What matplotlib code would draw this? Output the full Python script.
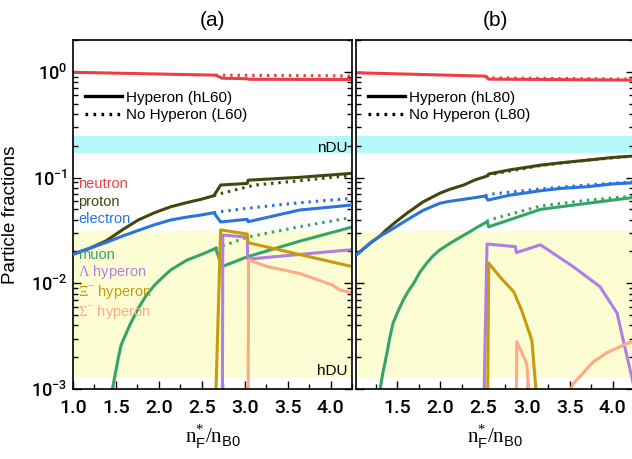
import matplotlib
matplotlib.use("Agg")
import matplotlib.pyplot as plt
from matplotlib.lines import Line2D
from matplotlib.ticker import MultipleLocator, LogLocator, FixedLocator, FixedFormatter, NullFormatter

plt.rcParams['font.family'] = ['Liberation Sans', 'DejaVu Sans']
plt.rcParams['mathtext.fontset'] = 'custom'
plt.rcParams['mathtext.rm'] = 'Liberation Serif'
plt.rcParams['mathtext.sf'] = 'Liberation Sans'
plt.rcParams['mathtext.bf'] = 'Roboto:medium'

# ---------------- data: panel (a) hL60 / L60 ----------------
a_neutron_x = [1.0, 2.66, 2.74, 3.03, 3.05, 4.25]
a_neutron_y = [0.99, 0.93, 0.87, 0.86, 0.85, 0.845]
a_neutron_dot_x = [2.66, 4.25]
a_neutron_dot_y = [0.93, 0.915]

a_proton_x = [1.0, 1.2, 1.39, 1.58, 1.76, 1.95, 2.14, 2.32, 2.49, 2.64, 2.72, 3.03, 3.04, 3.64, 4.25]
a_proton_y = [0.0188, 0.0215, 0.0253, 0.0322, 0.0397, 0.0465, 0.053, 0.0578, 0.0622, 0.0673,
              0.085, 0.088, 0.0944, 0.1005, 0.1096]
a_proton_dot_x = [2.64, 2.72, 3.12, 3.64, 4.25]
a_proton_dot_y = [0.0673, 0.0706, 0.085, 0.0933, 0.105]

a_electron_x = [1.0, 1.2, 1.39, 1.58, 1.76, 1.95, 2.14, 2.32, 2.49, 2.64, 2.72, 3.03, 3.04, 3.64, 4.25]
a_electron_y = [0.0188, 0.0215, 0.0244, 0.028, 0.0316, 0.0358, 0.0397, 0.0422, 0.0442, 0.0465,
                0.038, 0.0403, 0.0382, 0.0493, 0.055]
a_electron_dot_x = [2.64, 2.72, 3.03, 3.64, 4.25]
a_electron_dot_y = [0.0465, 0.0476, 0.0512, 0.0578, 0.0636]

a_muon_x = [1.44, 1.46, 1.49, 1.527, 1.56, 1.66, 1.76, 1.85, 1.95, 2.05, 2.14, 2.33, 2.53, 2.66,
            2.74, 3.03, 3.64, 4.25]
a_muon_y = [0.0007, 0.001, 0.00136, 0.00195, 0.0026, 0.0040, 0.0058, 0.0076, 0.0096, 0.0115, 0.0134,
            0.0166, 0.0192, 0.0214, 0.0144, 0.0178, 0.025, 0.034]
a_muon_dot_x = [2.66, 2.74, 3.03, 3.64, 4.25]
a_muon_dot_y = [0.0214, 0.0225, 0.0273, 0.0343, 0.042]

a_lambda_x = [2.74, 2.745, 3.03, 3.035, 4.25]
a_lambda_y = [0.0005, 0.0286, 0.0273, 0.0169, 0.0208]
a_xi_x = [2.655, 2.72, 3.03, 3.04, 4.25]
a_xi_y = [0.0005, 0.032, 0.0292, 0.0242, 0.0144]
a_sigma_x = [3.04, 3.045, 3.26, 3.64, 4.02, 4.1, 4.25]
a_sigma_y = [0.0005, 0.0167, 0.0144, 0.0124, 0.00964, 0.0087, 0.0081]

# ---------------- data: panel (b) hL80 / L80 ----------------
b_neutron_x = [1.02, 2.52, 2.56, 4.25]
b_neutron_y = [0.98, 0.91, 0.853, 0.835]
b_neutron_dot_x = [2.52, 2.56, 4.25]
b_neutron_dot_y = [0.91, 0.877, 0.853]

b_proton_x = [1.02, 1.2, 1.30, 1.36, 1.48, 1.61, 1.8, 1.99, 2.1, 2.27, 2.4, 2.54, 2.56, 2.8, 3.16,
              3.4, 3.70, 4.0, 4.25]
b_proton_y = [0.0185, 0.0245, 0.028, 0.0314, 0.038, 0.0459, 0.059, 0.0709, 0.077, 0.085, 0.095,
              0.1033, 0.108, 0.118, 0.131, 0.138, 0.146, 0.155, 0.16]
b_proton_dot_x = [2.54, 2.56, 3.16, 3.70, 4.25]
b_proton_dot_y = [0.1033, 0.106, 0.130, 0.146, 0.16]

b_electron_x = [1.02, 1.2, 1.30, 1.415, 1.61, 1.8, 1.99, 2.1, 2.27, 2.52, 2.55, 2.8, 3.16, 3.4,
                3.70, 4.0, 4.25]
b_electron_y = [0.0185, 0.0245, 0.028, 0.0316, 0.0397, 0.049, 0.057, 0.0595, 0.0622, 0.0669,
                0.0612, 0.068, 0.075, 0.079, 0.0819, 0.087, 0.0893]
b_electron_dot_x = [2.52, 2.56, 3.16, 3.70, 4.25]
b_electron_dot_y = [0.0669, 0.0693, 0.078, 0.085, 0.0911]

b_muon_x = [1.29, 1.30, 1.33, 1.38, 1.41, 1.45, 1.51, 1.57, 1.63, 1.69, 1.76, 1.84, 1.91, 1.99,
            2.15, 2.31, 2.43, 2.54, 2.56, 3.16, 3.70, 4.25]
b_muon_y = [0.0007, 0.001, 0.0014, 0.0022, 0.003, 0.0042, 0.0055, 0.0070, 0.0085, 0.0100, 0.0127,
            0.0155, 0.018, 0.0206, 0.025, 0.0297, 0.034, 0.0382, 0.0342, 0.050, 0.057, 0.065]
b_muon_dot_x = [2.54, 2.56, 3.16, 3.70, 4.25]
b_muon_dot_y = [0.0382, 0.0396, 0.0538, 0.061, 0.0669]

b_lambda_x = [2.50, 2.54, 2.87, 2.88, 3.16, 3.54, 3.85, 4.05, 4.12, 4.22, 4.26]
b_lambda_y = [0.0005, 0.0235, 0.0222, 0.0195, 0.0231, 0.01436, 0.0093, 0.0052, 0.0029, 0.0013, 0.0009]
b_xi_x = [2.545, 2.56, 2.69, 2.85, 2.94, 3.06, 3.13]
b_xi_y = [0.0005, 0.0155, 0.0115, 0.0083, 0.0056, 0.0029, 0.0006]
b_sigma1_x = [2.88, 2.885, 3.0, 3.04]
b_sigma1_y = [0.0005, 0.0028, 0.00175, 0.0007]
b_sigma2_x = [3.49, 3.54, 3.77, 3.93, 4.12, 4.26]
b_sigma2_y = [0.0009, 0.00112, 0.0018, 0.0022, 0.0026, 0.0029]

# DU threshold bands
ndu_band = (0.169, 0.245)
hdu_band = (0.00128, 0.0314)

species = ['neutron', 'proton', 'electron', 'muon',
           r'$\Lambda$ hyperon', r'$\Xi^{-}$ hyperon', r'$\Sigma^{-}$ hyperon']
colors = ['#ee3e45', '#45450f', '#2b73dd', '#34a56a', '#b07fe2', '#c99a0c', '#ffa987']
xticks = [1.0, 1.5, 2.0, 2.5, 3.0, 3.5, 4.0]
yticks = [1e-3, 1e-2, 1e-1, 1e0]
ytick_labels = [r'$\mathbf{10^{-3}}$', r'$\mathbf{10^{-2}}$', r'$\mathbf{10^{-1}}$', r'$\mathbf{10^{0}}$']

# ---------------- figure ----------------
fig = plt.figure(figsize=(6.32, 4.59), dpi=100)
W, H = 632, 459
ax1 = fig.add_axes([73 / W, 70 / H, 279 / W, 349 / H])
ax2 = fig.add_axes([356 / W, 70 / H, 278.4 / W, 349 / H])

lw = 2.2
dot = (0, (0.8, 1.6))


def style(ax, xmin):
    ax.set_yscale('log')
    ax.set_ylim(1e-3, 2.0)
    ax.set_xlim(xmin, 4.25)
    ax.axhspan(*ndu_band, color='#b5f9f9', lw=0, zorder=0)
    ax.axhspan(*hdu_band, color='#fdfdd3', lw=0, zorder=0)
    ax.xaxis.set_major_locator(FixedLocator(xticks))
    ax.xaxis.set_minor_locator(MultipleLocator(0.25))
    ax.yaxis.set_major_locator(FixedLocator(yticks))
    ax.yaxis.set_minor_locator(LogLocator(base=10, subs=range(2, 10)))
    ax.yaxis.set_minor_formatter(NullFormatter())
    ax.tick_params(axis='both', which='both', direction='in', top=False, right=True)
    ax.tick_params(axis='both', which='major', length=6, width=1.0)
    ax.tick_params(axis='both', which='minor', length=3.5, width=1.0)
    ax.tick_params(axis='x', labelsize=14, pad=7)
    for lab in ax.get_xticklabels():
        lab.set_fontfamily(['Roboto', 'Liberation Sans'])
        lab.set_fontweight('medium')
    for s in ax.spines.values():
        s.set_linewidth(1.2)
    ax.set_xlabel(r'$\mathrm{n}^{*}_{\mathsf{F}}/\mathrm{n}_{\mathsf{B0}}$', fontsize=15, labelpad=4)


style(ax1, 1.0)
style(ax2, 1.02)

ax1.yaxis.set_major_formatter(FixedFormatter(ytick_labels))
ax1.tick_params(axis='y', labelsize=13, pad=4)
ax2.yaxis.set_major_formatter(NullFormatter())

# panel a curves
ax1.plot(a_neutron_x, a_neutron_y, color=colors[0], lw=lw)
ax1.plot(a_neutron_dot_x, a_neutron_dot_y, color=colors[0], lw=lw, ls=dot)
ax1.plot(a_proton_x, a_proton_y, color=colors[1], lw=lw)
ax1.plot(a_proton_dot_x, a_proton_dot_y, color=colors[1], lw=lw, ls=dot)
ax1.plot(a_electron_x, a_electron_y, color=colors[2], lw=lw, zorder=3)
ax1.plot(a_electron_dot_x, a_electron_dot_y, color=colors[2], lw=lw, ls=dot)
ax1.plot(a_muon_x, a_muon_y, color=colors[3], lw=lw)
ax1.plot(a_muon_dot_x, a_muon_dot_y, color=colors[3], lw=lw, ls=dot)
ax1.plot(a_lambda_x, a_lambda_y, color=colors[4], lw=lw)
ax1.plot(a_sigma_x, a_sigma_y, color=colors[6], lw=lw)
ax1.plot(a_xi_x, a_xi_y, color=colors[5], lw=lw)

# panel b curves
ax2.plot(b_neutron_x, b_neutron_y, color=colors[0], lw=lw)
ax2.plot(b_neutron_dot_x, b_neutron_dot_y, color=colors[0], lw=lw, ls=dot)
ax2.plot(b_proton_x, b_proton_y, color=colors[1], lw=lw)
ax2.plot(b_proton_dot_x, b_proton_dot_y, color=colors[1], lw=lw, ls=dot)
ax2.plot(b_electron_x, b_electron_y, color=colors[2], lw=lw, zorder=3)
ax2.plot(b_electron_dot_x, b_electron_dot_y, color=colors[2], lw=lw, ls=dot)
ax2.plot(b_muon_x, b_muon_y, color=colors[3], lw=lw)
ax2.plot(b_muon_dot_x, b_muon_dot_y, color=colors[3], lw=lw, ls=dot)
ax2.plot(b_lambda_x, b_lambda_y, color=colors[4], lw=lw)
ax2.plot(b_sigma1_x, b_sigma1_y, color=colors[6], lw=lw)
ax2.plot(b_sigma2_x, b_sigma2_y, color=colors[6], lw=lw)
ax2.plot(b_xi_x, b_xi_y, color=colors[5], lw=lw)

# legends
for ax, tag in ((ax1, '60'), (ax2, '80')):
    handles = [Line2D([], [], color='black', lw=2.4),
               Line2D([], [], color='black', lw=2.4, ls=dot)]
    ax.legend(handles, [f'Hyperon (hL{tag})', f'No Hyperon (L{tag})'],
              loc='upper left', bbox_to_anchor=(0.0, 0.89), frameon=False,
              fontsize=11, handlelength=2.4, handletextpad=0.3, labelspacing=0.25,
              borderaxespad=0.4)

# species labels
label_y = [0.587, 0.536, 0.487, 0.384, 0.335, 0.278, 0.221]
for name, c, yy in zip(species, colors, label_y):
    ax1.text(0.018, yy, name, color=c, fontsize=10.5, transform=ax1.transAxes,
             ha='left', va='center')

ax1.text(0.985, 0.69, 'nDU', fontsize=11, ha='right', va='center', transform=ax1.transAxes)
ax1.text(0.985, 0.052, 'hDU', fontsize=11, ha='right', va='center', transform=ax1.transAxes)

ax1.set_title('(a)', fontsize=15, pad=10)
ax2.set_title('(b)', fontsize=15, pad=10)
ax1.set_ylabel('Particle fractions', fontsize=13.5)
ax1.yaxis.set_label_coords(-0.195, 0.5)

fig.savefig('out.png', dpi=100)
